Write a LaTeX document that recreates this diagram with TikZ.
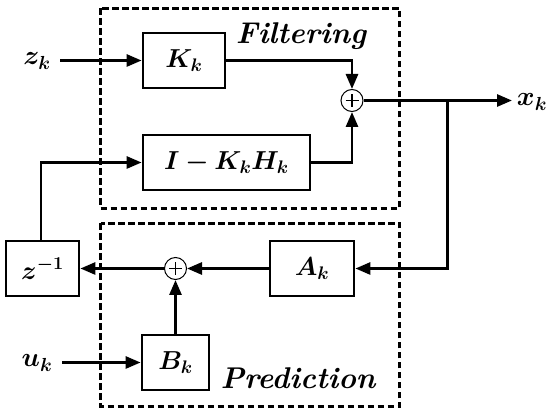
\RequirePackage{fix-cm}
\documentclass[tikz,border=0pt]{standalone}
\usepackage{fontspec}
\usepackage{bm}
\usetikzlibrary{arrows.meta}
\begin{document}
\begin{tikzpicture}[x=1pt,y=-1pt,
  blk/.style={draw,line width=2.8pt,minimum height=55pt,inner sep=0pt,font=\fontsize{26}{30}\selectfont},
  sumnode/.style={draw,circle,line width=1pt,minimum size=22pt,inner sep=0pt,
    path picture={\draw[line width=1.1pt] ([xshift=-6.5pt]path picture bounding box.center) -- ([xshift=6.5pt]path picture bounding box.center);
                  \draw[line width=1.1pt] ([yshift=-6.5pt]path picture bounding box.center) -- ([yshift=6.5pt]path picture bounding box.center);}},
  arr/.style={line width=2.8pt,-{Triangle[length=15pt,width=12pt]}},
  grp/.style={draw,line width=2.8pt,dash pattern=on 6.5pt off 3.5pt},
  lbl/.style={font=\fontsize{27}{31}\selectfont},
  ttl/.style={font=\fontsize{30}{34}\selectfont\bfseries\itshape}]
\useasboundingbox (0,0) rectangle (550,414);
\draw[grp] (100.5,8.5) rectangle (399.5,208.5);
\draw[grp] (100.5,223.5) rectangle (399.5,406.5);
\node[ttl] (tf) at (301,36) {Filtering};
\node[ttl] (tp) at (298,378) {Prediction};
\node[blk,minimum width=82pt] (K) at (184,60.5) {$\bm{K_k}$};
\node[blk,minimum width=167pt] (IKH) at (226.5,162.5) {$\bm{I-K_kH_k}$};
\node[sumnode] (s1) at (352,100.5) {};
\node[blk,minimum width=84pt] (A) at (312,268.5) {$\bm{A_k}$};
\node[sumnode] (s2) at (175.5,268.5) {};
\node[blk,minimum width=73pt] (Z) at (42.5,268.5) {$\bm{z^{-1}}$};
\node[blk,minimum width=67pt] (B) at (175.5,362.5) {$\bm{B_k}$};
\node[lbl] (zk) at (37,61) {$\bm{z_k}$};
\node[lbl] (xk) at (532,102) {$\bm{x_k}$};
\node[lbl] (uk) at (37,363) {$\bm{u_k}$};
\coordinate (zin) at (60,60.5);
\coordinate (uin) at (62,362.5);
\coordinate (xout) at (512,100.5);
\coordinate (br) at (447.5,100.5);
\draw[arr] (zin) -- (K.west);
\draw[arr] (K.east) -| (s1.north);
\draw[arr] (IKH.east) -| (s1.south);
\draw[arr] (s1.east) -- (xout);
\draw[arr] (br) |- (A.east);
\draw[arr] (A.west) -- (s2.east);
\draw[arr] (s2.west) -- (Z.east);
\draw[arr] ([xshift=-1.5pt]Z.north) |- (IKH.west);
\draw[arr] (B.north) -- (s2.south);
\draw[arr] (uin) -- (B.west);
\end{tikzpicture}
\end{document}
